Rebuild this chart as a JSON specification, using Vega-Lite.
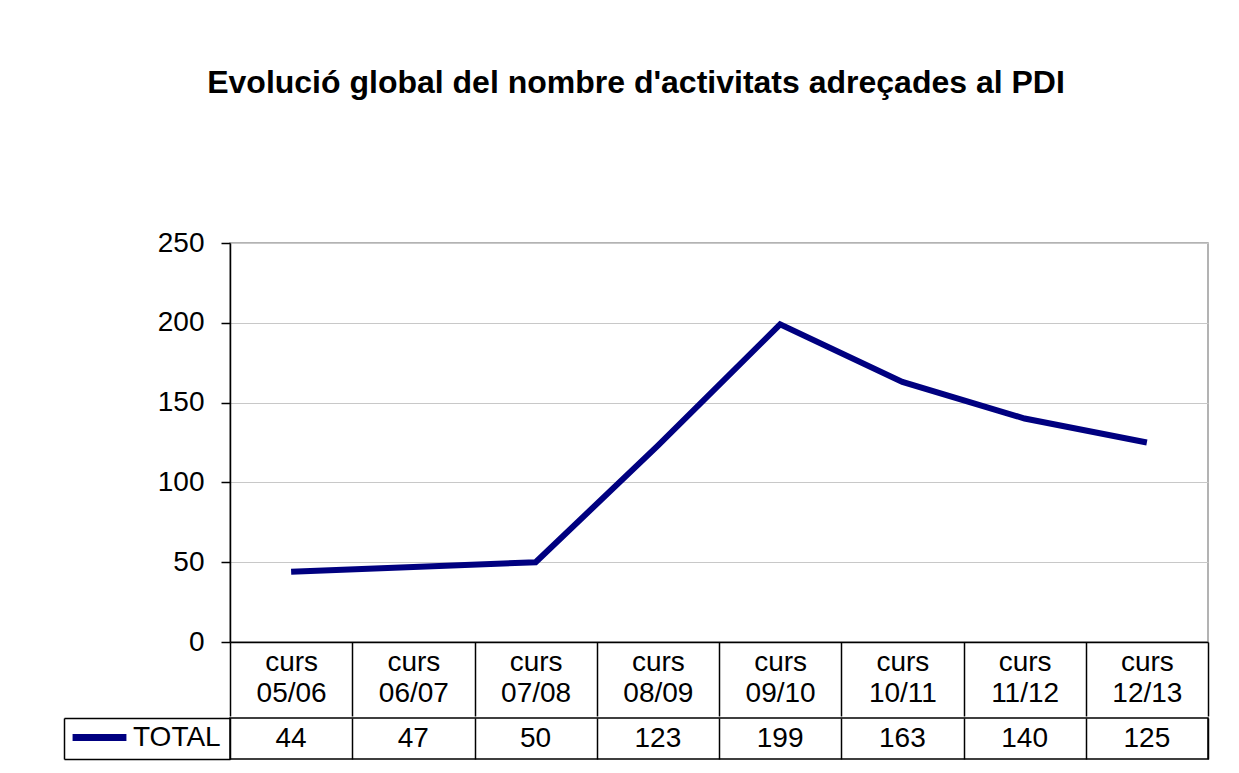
{
  "$schema": "https://vega.github.io/schema/vega-lite/v6.json",
  "background": "white",
  "padding": {"left": 62, "top": 67, "right": 20, "bottom": 10},
  "title": {
    "text": "Evolució global del nombre d'activitats adreçades al PDI",
    "font": "Liberation Sans",
    "fontSize": 32,
    "fontWeight": "bold",
    "color": "black",
    "anchor": "middle",
    "frame": "bounds",
    "offset": 128
  },
  "datasets": {
    "d": [
      {"curs": "curs 05/06", "serie": "TOTAL", "valor": 44},
      {"curs": "curs 06/07", "serie": "TOTAL", "valor": 47},
      {"curs": "curs 07/08", "serie": "TOTAL", "valor": 50},
      {"curs": "curs 08/09", "serie": "TOTAL", "valor": 123},
      {"curs": "curs 09/10", "serie": "TOTAL", "valor": 199},
      {"curs": "curs 10/11", "serie": "TOTAL", "valor": 163},
      {"curs": "curs 11/12", "serie": "TOTAL", "valor": 140},
      {"curs": "curs 12/13", "serie": "TOTAL", "valor": 125}
    ]
  },
  "config": {
    "font": "Liberation Sans",
    "axis": {"labelFont": "Liberation Sans", "labelColor": "black", "labelFontSize": 28},
    "legend": {"labelFont": "Liberation Sans"}
  },
  "spacing": -3,
  "vconcat": [
    {
      "width": 978,
      "height": 399,
      "view": {"stroke": "#9a9a9a", "strokeWidth": 1.5},
      "data": {"name": "d"},
      "mark": {"type": "line", "color": "#000080", "strokeWidth": 6},
      "encoding": {
        "x": {
          "field": "curs",
          "type": "ordinal",
          "sort": null,
          "scale": {"type": "band", "paddingInner": 0, "paddingOuter": 0},
          "axis": {
            "title": null,
            "orient": "bottom",
            "grid": false,
            "tickBand": "extent",
            "tickSize": 74,
            "tickColor": "black",
            "tickWidth": 1.5,
            "domainColor": "black",
            "domainWidth": 1.5,
            "labelAngle": 0,
            "labelAlign": "center",
            "labelExpr": "split(datum.label, ' ')",
            "labelLineHeight": 31,
            "labelBaseline": "top",
            "labelPadding": -68
          }
        },
        "y": {
          "field": "valor",
          "type": "quantitative",
          "scale": {"domain": [0, 250]},
          "axis": {
            "title": null,
            "values": [0, 50, 100, 150, 200, 250],
            "tickSize": 9,
            "tickColor": "black",
            "tickWidth": 1.5,
            "domainColor": "black",
            "domainWidth": 1.5,
            "labelPadding": 17,
            "grid": true,
            "gridColor": "#c8c8c8",
            "gridWidth": 1
          }
        }
      }
    },
    {
      "width": 978,
      "height": 41,
      "view": {"stroke": "black", "strokeWidth": 1.5},
      "data": {"name": "d"},
      "encoding": {
        "x": {
          "field": "curs",
          "type": "ordinal",
          "sort": null,
          "scale": {"type": "band", "paddingInner": 0, "paddingOuter": 0},
          "axis": {
            "title": null,
            "labels": false,
            "ticks": false,
            "domain": false,
            "grid": true,
            "tickBand": "extent",
            "gridColor": "black",
            "gridWidth": 1.5,
            "gridOpacity": 1
          }
        },
        "y": {
          "field": "serie",
          "type": "nominal",
          "scale": {"type": "band", "paddingInner": 0, "paddingOuter": 0},
          "axis": {
            "title": null,
            "labels": false,
            "grid": false,
            "offset": 166,
            "tickSize": -166,
            "tickBand": "extent",
            "tickColor": "black",
            "tickWidth": 1.5,
            "domain": true,
            "domainColor": "black",
            "domainWidth": 1.5
          }
        }
      },
      "layer": [
        {
          "mark": {"type": "text", "fontSize": 28, "color": "black", "font": "Liberation Sans"},
          "encoding": {"text": {"field": "valor", "type": "quantitative"}}
        },
        {
          "mark": {"type": "line", "opacity": 0},
          "encoding": {
            "color": {
              "field": "serie",
              "type": "nominal",
              "scale": {"range": ["#000080"]},
              "legend": {
                "title": null,
                "orient": "none",
                "legendX": -161,
                "legendY": 464,
                "padding": 0,
                "symbolType": "stroke",
                "symbolSize": 2900,
                "symbolStrokeWidth": 7,
                "symbolOpacity": 1,
                "symbolStrokeColor": "#000080",
                "labelFontSize": 28,
                "labelColor": "black",
                "labelOffset": 3
              }
            }
          }
        }
      ]
    }
  ]
}
